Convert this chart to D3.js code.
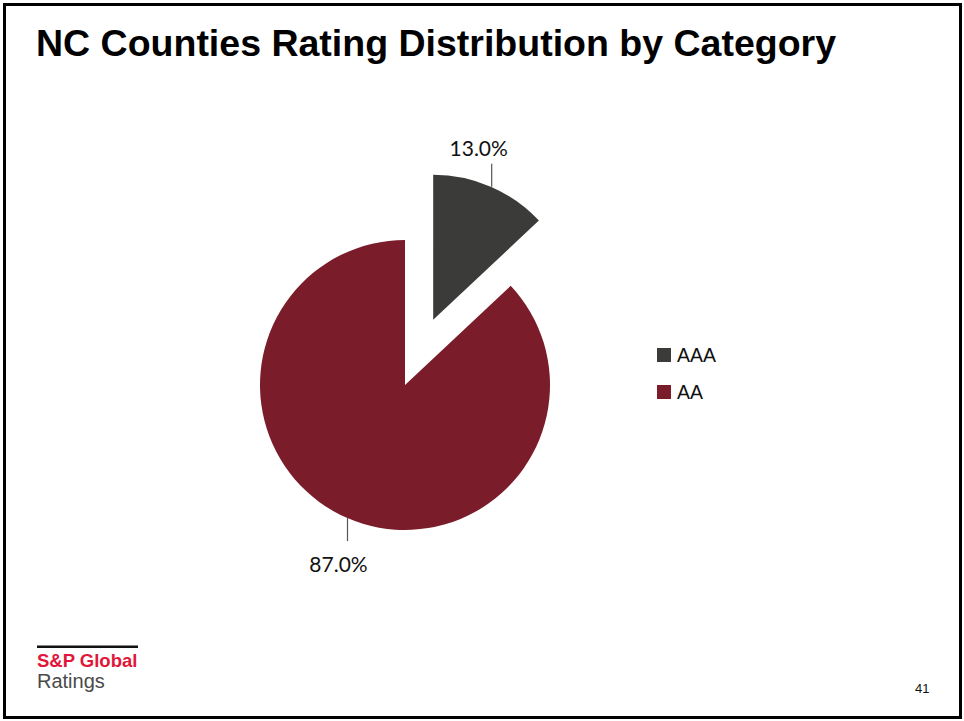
<!DOCTYPE html>
<html>
<head>
<meta charset="utf-8">
<script src="https://cdn.jsdelivr.net/npm/d3@7"></script>
<style>
  html, body { margin: 0; padding: 0; background: #fff; }
  svg { display: block; }
</style>
</head>
<body>
<svg id="chart" width="964" height="721"></svg>
<script>
const categories = ["AAA", "AA"];
const values = [13.0, 87.0];
const labels = ["13.0%", "87.0%"];
const colors = ["#3b3b39", "#7a1c29"];

const svg = d3.select("#chart");

// frame
svg.append("rect").attr("x", 4.5).attr("y", 4.5).attr("width", 956).attr("height", 713)
  .attr("fill", "none").attr("stroke", "#000").attr("stroke-width", 3);

// title
svg.append("text").attr("x", 36).attr("y", 56)
  .attr("font-family", "Liberation Sans, Arial, sans-serif")
  .attr("font-weight", "bold").attr("font-size", 37.5)
  .attr("fill", "#000")
  .text("NC Counties Rating Distribution by Category");

// pie
const cx = 405, cy = 385, r = 145, explode = 71;
const pie = d3.pie().sort(null).value(d => d)(values);
const arc = d3.arc().innerRadius(0).outerRadius(r);
const g = svg.append("g").attr("transform", `translate(${cx},${cy})`);

pie.forEach((p, i) => {
  const mid = (p.startAngle + p.endAngle) / 2;
  const off = i === 0 ? explode : 0;
  const ox = off * Math.sin(mid), oy = -off * Math.cos(mid);
  const sg = g.append("g").attr("transform", `translate(${ox},${oy})`);
  sg.append("path").attr("d", arc(p)).attr("fill", colors[i]);
  // leader line
  const x1 = r * Math.sin(mid), y1 = -r * Math.cos(mid);
  const lx = Math.round(x1) + 0.5;
  sg.append("line").attr("x1", lx).attr("y1", y1).attr("x2", lx).attr("y2", y1 + (y1 < 0 ? -23 : 23))
    .attr("stroke", "#555").attr("stroke-width", 1.2);
  const ty = y1 < 0 ? y1 - 31 : y1 + 54;
  sg.append("text").attr("x", lx - (y1 < 0 ? 13 : 9)).attr("y", ty)
    .attr("text-anchor", "middle")
    .attr("font-family", "Lato, Carlito, Calibri, sans-serif")
    .attr("font-size", 21).attr("fill", "#111")
    .text(labels[i]);
});

// legend
const legend = svg.append("g").attr("transform", "translate(657,348)");
categories.forEach((c, i) => {
  const lg = legend.append("g").attr("transform", `translate(0,${i * 37})`);
  lg.append("rect").attr("width", 14).attr("height", 14).attr("fill", colors[i]);
  lg.append("text").attr("x", 20).attr("y", 14)
    .attr("font-family", "Liberation Sans, Arial, sans-serif")
    .attr("font-size", 19.5).attr("fill", "#111").text(c);
});

// logo
svg.append("rect").attr("x", 37).attr("y", 645.5).attr("width", 101).attr("height", 2.5).attr("fill", "#111");
svg.append("text").attr("x", 37).attr("y", 667)
  .attr("font-family", "Liberation Sans, Arial, sans-serif").attr("font-weight", "bold")
  .attr("font-size", 18.5).attr("fill", "#e0173b").text("S&P Global");
svg.append("text").attr("x", 37).attr("y", 688)
  .attr("font-family", "Liberation Sans, Arial, sans-serif")
  .attr("font-size", 20).attr("fill", "#4a4a4a").text("Ratings");

// page number
svg.append("text").attr("x", 915).attr("y", 693)
  .attr("font-family", "Liberation Sans, Arial, sans-serif")
  .attr("font-size", 13).attr("fill", "#111").text("41");
</script>
</body>
</html>
